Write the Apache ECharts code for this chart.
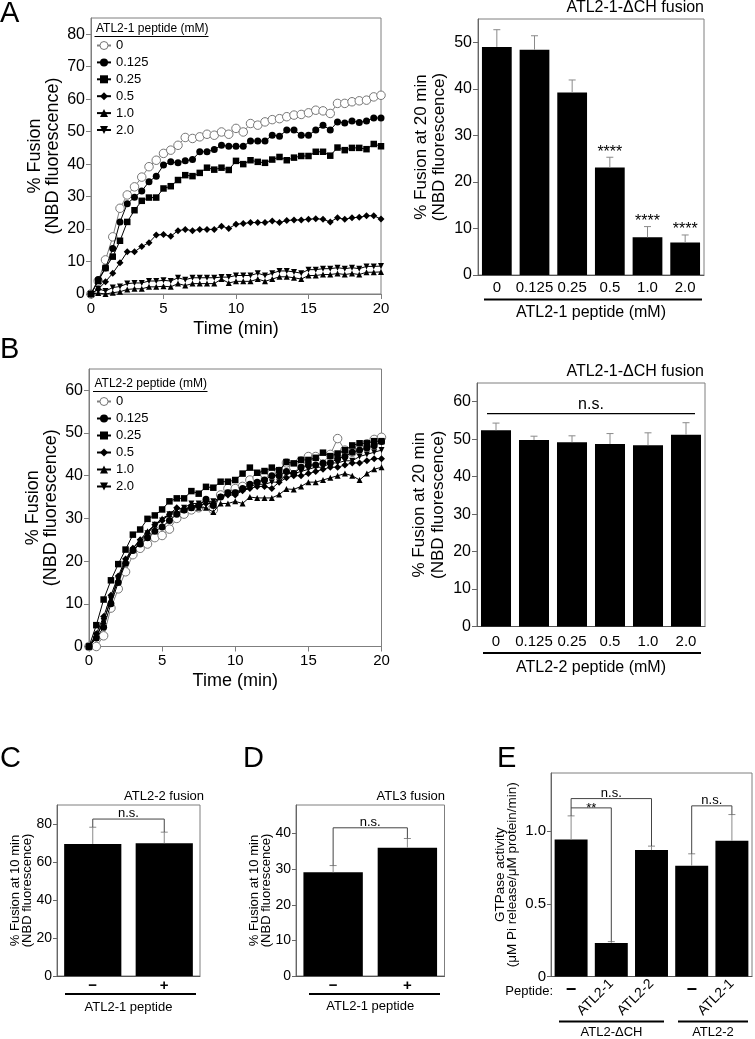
<!DOCTYPE html>
<html>
<head>
<meta charset="utf-8">
<script src="https://cdn.jsdelivr.net/npm/echarts@6/dist/echarts.min.js"></script>
<style>html,body{margin:0;padding:0;background:#fff}#c{width:755px;height:1039px}</style>
</head>
<body>
<div id="c"></div>
<script>
// ---------------- DATA ----------------
const TIME = [0,0.5,1,1.5,2,2.5,3,3.5,4,4.5,5,5.5,6,6.5,7,7.5,8,8.5,9,9.5,10,10.5,11,11.5,12,12.5,13,13.5,14,14.5,15,15.5,16,16.5,17,17.5,18,18.5,19,19.5,20];
const CONC = ['0','0.125','0.25','0.5','1.0','2.0'];

// Panel A, kinetics (ATL2-1 peptide)
const A_0   = [0,4,10.5,17.6,26.4,30.5,33,36,39.2,41.2,43.3,44.3,45.8,48.2,47.9,48.4,49.2,48.9,49.9,49.2,51,49.9,52.5,52,53,53.7,54,54.6,55.1,55.3,55.8,56.6,56.4,55.6,58.7,58.7,59.2,59.5,59.7,60.7,61.2];
const A_125 = [0,4.5,8,14,22.2,27.8,29.8,31.7,34.6,36.3,39.7,40.7,40.4,41,41.4,43.8,43.8,44.5,45.8,45.5,45.5,45.5,47.1,47.1,47.1,48.9,48.6,50.5,50.5,48.9,48.9,50.5,52,50.5,53,52.7,53.3,52.8,53.3,54.2,54.2];
const A_25  = [0,4,8,11.5,16.4,22.2,25.8,28.7,29.7,29.7,32.5,33.2,35.1,36.6,36.3,37.3,38.9,38.3,38.9,38.2,41,40,41.2,40.7,40.4,41.4,42.2,41.2,42,42.5,42.5,43.8,43.8,42.6,45.1,44.3,45,45,44.6,46.2,45.5];
const A_5   = [0,1.5,3.8,6.4,9.6,13,13,14.6,15.8,18.2,18.3,17.8,19.5,19.9,19.5,19.9,19.9,19.9,20.9,20.2,21.5,21.7,22,22,22,22.5,22,22.6,22.8,22.8,23,23.2,23,22.2,23.5,23,23.5,23.6,24.1,24.1,23.1];
const A_10  = [0,0.3,0,0.4,0.7,1.4,1.6,1.6,2.2,2.2,2.4,2.2,3.2,2.6,3.2,3.2,3.2,3.2,4.6,3.4,3.9,3.9,3.9,4.6,3.9,4.6,5.3,5.3,5.0,4.6,5.7,5.7,6.0,6.0,6.3,6.0,6.3,6.0,6.7,6.7,6.8];
const A_20  = [0,1.6,0.9,2.0,2.3,3.2,3.4,3.4,4.0,4.0,4.2,4.0,5.0,4.4,5.0,5.0,5.0,5.0,5.2,5.2,5.7,5.7,5.7,6.4,5.7,6.4,7.1,7.1,6.8,6.4,7.5,7.5,7.8,7.8,8.1,7.8,8.1,7.8,8.5,8.5,8.6];

// Panel B, kinetics (ATL2-2 peptide)
const B_0   = [0,0,2.5,9,13.5,17.5,21.5,23,24,25.5,26,27.5,30,31,32,32.5,33.5,32,35.5,37,37,37.5,39,39.5,40.5,40.5,41,43,42,43.5,44.5,44.5,44.5,45,48.7,46,45.5,46.5,47.5,48.5,49];
const B_125 = [0,2,4.5,10,15,19.5,22.5,24,25.5,27,28,29.5,31,32,32.5,33,34.5,33,35,36,36,37,38,38.5,39,40,40,41,40.5,42,42.5,42.5,43,43,44,44.5,45.5,46,46.5,47,48];
const B_25  = [0,5,11,15.5,19.3,22.7,26.2,27.4,29.9,30.7,32.1,34,34.7,34.7,36.4,35.8,37.4,37.2,38.6,38.6,39,40.5,41.9,40.7,41.1,41.9,41.3,43.2,42.9,43.7,43.7,44.2,45.4,44.6,45.2,46,47.1,47.6,47.6,48.1,48.1];
const B_5   = [0,3,7,12,16.5,20.5,23,25,26.5,28.5,29.5,31,32.5,32,33,33,33.5,33.5,35,35.5,35.5,36.5,37,37.5,37.5,37,38.5,39.5,40,40,40.5,41,41.5,42,42,42.5,43,43,43.5,44,44];
const B_10  = [0,2,6,11,16,20,23,25,27,28.5,30,31,31.5,32,32.5,32.5,32.5,31.5,33.5,33.5,34,33.5,35,34.8,34.8,34.8,35.6,36.9,36.8,37.5,38.5,38.5,39,39.5,40,40.5,40,39,40.5,41.5,42];
const B_20  = [0,2.5,6,11,15.5,20,22.5,24.5,26.5,28.5,29.5,31,32,32.5,33.5,33.5,34,34,35,36,36,36.5,37.5,38,38,38.5,38.5,40.5,40.5,41,41.5,42,42,43,43,43.5,43.5,44.5,45,45.5,46];

// Bar panels
const A_BAR_MEAN = [49.0, 48.4, 39.2, 23.1, 8.1, 7.0];
const A_BAR_ERR  = [3.7, 3.0, 2.7, 2.2, 2.3, 1.6];
const A_BAR_SIG  = ['', '', '', '****', '****', '****'];
const B_BAR_MEAN = [52.4, 49.8, 49.2, 48.7, 48.4, 51.2];
const B_BAR_ERR  = [1.9, 1.0, 1.7, 2.8, 3.3, 3.2];
const B_NS_LEVEL = 56.8;

const CD_CATS = ['−', '+'];
const C_MEAN = [69.5, 69.9];
const C_ERR  = [8.8, 5.8];
const D_MEAN = [29.1, 36.0];
const D_ERR  = [1.9, 2.6];
const E_CATS = ['−', 'ATL2-1', 'ATL2-2', '−', 'ATL2-1'];
const E_MEAN = [0.943, 0.231, 0.870, 0.762, 0.934];
const E_ERR  = [0.162, 0.009, 0.027, 0.082, 0.180];

// brackets: [from, to, level, leftEnd, rightEnd, label]
const C_BRACKETS = [[0, 1, 82.6, 78.3, 75.7, 'n.s.']];
const D_BRACKETS = [[0, 1, 41.6, 31.0, 38.6, 'n.s.']];
const E_BRACKETS = [[0, 2, 1.224, 1.105, 0.897, 'n.s.'], [0, 1, 1.16, 1.16, 0.24, '**'], [3, 4, 1.174, 0.844, 1.114, 'n.s.']];

// tick labels
const T_TICKS = [0, 5, 10, 15, 20];
const A_LINE_YTICKS = [0, 10, 20, 30, 40, 50, 60, 70, 80];
const B_LINE_YTICKS = [0, 10, 20, 30, 40, 50, 60];
const A_BAR_YTICKS = [0, 10, 20, 30, 40, 50];
const B_BAR_YTICKS = [0, 10, 20, 30, 40, 50, 60];
const C_YTICKS = [0, 20, 40, 60, 80];
const D_YTICKS = [0, 10, 20, 30, 40];
const E_YTICKS = [0, 0.5, 1.0];

// ---------------- CHART ----------------
const FONT = '"Liberation Sans", Arial, Helvetica, sans-serif';
const chart = echarts.init(document.getElementById('c'), null, {renderer: 'canvas', width: 755, height: 1039});

const FRAME = '#7f7f7f';
function grid(l, t, w, h) {
  return {left: l, top: t, width: w, height: h, show: true, borderColor: FRAME, borderWidth: 1, backgroundColor: 'transparent', outerBoundsMode: 'none', containLabel: false};
}
function valAxis(gi, min, max, ticks, o) {
  o = o || {};
  return {
    type: 'value', gridIndex: gi, min: min, max: max,
    splitLine: {show: false},
    axisLine: {show: true, lineStyle: {color: o.lineColor || FRAME, width: 1}},
    axisTick: {show: true, inside: false, length: o.tickLen || 5, lineStyle: {color: o.lineColor || FRAME}, customValues: ticks},
    axisLabel: {show: true, customValues: ticks, color: '#000', fontFamily: FONT, fontSize: o.fs || 15, margin: o.margin || 7,
      formatter: o.fmt || (v => String(v))},
    name: o.name || '', nameLocation: 'middle', nameGap: o.nameGap || 30,
    nameTextStyle: {color: '#000', fontFamily: FONT, fontSize: o.nfs || 17, lineHeight: o.nlh || 18},
    nameMoveOverlap: false
  };
}
function catAxis(gi, data, o) {
  o = o || {};
  return {
    type: 'category', gridIndex: gi, data: data, boundaryGap: true,
    axisLine: {show: o.noLine ? false : true, lineStyle: {color: '#555', width: 1}},
    axisTick: {show: false},
    splitLine: {show: false},
    axisLabel: {show: true, interval: 0, color: '#000', fontFamily: FONT, fontSize: o.fs || 15, fontWeight: o.fw || 'normal',
      margin: o.margin || 5, rotate: o.rotate || 0, formatter: o.fmt || (v => v)},
    name: o.name || '', nameLocation: 'middle', nameGap: o.nameGap || 30,
    nameTextStyle: {color: '#000', fontFamily: FONT, fontSize: o.nfs || 16},
    nameMoveOverlap: false,
    position: 'bottom'
  };
}

const MARKS = [
  {symbol: 'circle', size: 8.5, fill: '#fff', border: '#777', bw: 1, line: '#808080'},
  {symbol: 'circle', size: 7, fill: '#000', border: '#000', bw: 0, line: '#000'},
  {symbol: 'rect', size: 6.5, fill: '#000', border: '#000', bw: 0, line: '#000'},
  {symbol: 'diamond', size: 7, fill: '#000', border: '#000', bw: 0, line: '#000'},
  {symbol: 'triangle', size: 6, fill: '#000', border: '#000', bw: 0, line: '#000'},
  {symbol: 'triangle', size: 6, fill: '#000', border: '#000', bw: 0, line: '#000', rot: 180}
];
function lineSeries(prefix, ai, vals, k) {
  const m = MARKS[k];
  return {
    type: 'line', name: prefix + ':' + CONC[k], xAxisIndex: ai, yAxisIndex: ai,
    data: TIME.map((t, i) => [t, vals[i]]),
    symbol: m.symbol, symbolSize: m.size, symbolRotate: m.rot || 0,
    showSymbol: true, showAllSymbol: true, clip: false,
    lineStyle: {color: m.line, width: 1},
    itemStyle: {color: m.fill, borderColor: m.border, borderWidth: m.bw},
    emphasis: {disabled: true}, z: 2 + k
  };
}
function barSeries(ai, vals, bw) {
  return {type: 'bar', xAxisIndex: ai, yAxisIndex: ai, data: vals, barWidth: bw,
    itemStyle: {color: '#000'}, emphasis: {disabled: true}, z: 2};
}
function errSeries(ai, mean, err, sig, sigFs) {
  return {
    type: 'custom', coordinateSystem: 'cartesian2d', xAxisIndex: ai, yAxisIndex: ai, z: 3,
    data: mean.map((v, i) => [i, v, v + err[i]]),
    renderItem: function (params, api) {
      const i = api.value(0);
      const p1 = api.coord([i, api.value(1)]);
      const p2 = api.coord([i, api.value(2)]);
      const cap = 3.5;
      const ch = [
        {type: 'line', shape: {x1: p1[0], y1: p1[1], x2: p2[0], y2: p2[1]}, style: {stroke: '#8a8a8a', lineWidth: 1}},
        {type: 'line', shape: {x1: p2[0] - cap, y1: p2[1], x2: p2[0] + cap, y2: p2[1]}, style: {stroke: '#8a8a8a', lineWidth: 1}}
      ];
      const s = sig ? sig[params.dataIndex] : '';
      if (s) {
        ch.push({type: 'text', x: p2[0], y: p2[1] + 3,
          style: {text: s, fill: '#000', fontFamily: FONT, fontSize: sigFs || 16, align: 'center', verticalAlign: 'bottom'}});
      }
      return {type: 'group', children: ch};
    }
  };
}
function bracketSeries(ai, brs, fs) {
  return {
    type: 'custom', coordinateSystem: 'cartesian2d', xAxisIndex: ai, yAxisIndex: ai, z: 4,
    data: brs.map(b => [b[0], b[1], b[2], b[3], b[4]]),
    renderItem: function (params, api) {
      const a = api.value(0), b = api.value(1), lv = api.value(2);
      const pL = api.coord([a, api.value(3)]);
      const pR = api.coord([b, api.value(4)]);
      const qL = api.coord([a, lv]);
      const qR = api.coord([b, lv]);
      const lab = brs[params.dataIndex][5];
      const isStar = lab.indexOf('*') >= 0;
      return {type: 'group', children: [
        {type: 'polyline', shape: {points: [pL, qL, qR, pR]}, style: {stroke: '#444', lineWidth: 1, fill: null}},
        {type: 'text', x: (qL[0] + qR[0]) / 2, y: qL[1] + (isStar ? 7 : 1),
          style: {text: lab, fill: '#000', fontFamily: FONT, fontSize: fs, align: 'center', verticalAlign: 'bottom'}}
      ]};
    }
  };
}
function nsLineSeries(ai, n, level, fs) {
  return {
    type: 'custom', coordinateSystem: 'cartesian2d', xAxisIndex: ai, yAxisIndex: ai, z: 4,
    data: [[0, n - 1, level]],
    renderItem: function (params, api) {
      const pL = api.coord([api.value(0), api.value(2)]);
      const pR = api.coord([api.value(1), api.value(2)]);
      return {type: 'group', children: [
        {type: 'line', shape: {x1: pL[0] - 9, y1: pL[1], x2: pR[0] + 9, y2: pR[1]}, style: {stroke: '#000', lineWidth: 1.2}},
        {type: 'text', x: (pL[0] + pR[0]) / 2, y: pL[1] - 1,
          style: {text: 'n.s.', fill: '#000', fontFamily: FONT, fontSize: fs, align: 'center', verticalAlign: 'bottom'}}
      ]};
    }
  };
}
function legendCfg(prefix, top) {
  return {
    orient: 'vertical', left: 96, top: top, padding: 0, itemGap: prefix === 'A' ? 2.9 : 3,
    itemWidth: 14, itemHeight: 10, selectedMode: false,
    data: CONC.map((c, k) => (k === 0
      ? {name: prefix + ':' + c, itemStyle: {color: '#fff', borderColor: '#777', borderWidth: 1}}
      : {name: prefix + ':' + c})),
    formatter: n => n.split(':')[1],
    textStyle: {color: '#000', fontFamily: FONT, fontSize: 13, lineHeight: 14}
  };
}
function txt(text, x, y, fs, align, extra) {
  return Object.assign({type: 'text', x: x, y: y, silent: true,
    style: Object.assign({text: text, fill: '#000', fontFamily: FONT, fontSize: fs, align: align || 'left', verticalAlign: 'middle'}, extra || {})});
}
function hline(x1, x2, y, w) {
  return {type: 'line', silent: true, shape: {x1: x1, y1: y, x2: x2, y2: y}, style: {stroke: '#000', lineWidth: w || 2}};
}

const yNameL = '% Fusion\n(NBD fluorescence)';
const yNameBar20 = '% Fusion at 20 min\n(NBD fluorescence)';
const yNameBar10 = '% Fusion at 10 min\n(NBD fluorescence)';

const option = {
  animation: false,
  backgroundColor: '#fff',
  textStyle: {fontFamily: FONT},
  grid: [
    grid(91, 18, 290, 276),      // 0 A kinetics
    grid(478, 19, 226, 256),     // 1 A bars
    grid(89, 369, 292.5, 277.5), // 2 B kinetics
    grid(477, 383, 228, 243.5),  // 3 B bars
    grid(57, 805, 143, 171),     // 4 C
    grid(296, 805, 148.5, 171),  // 5 D
    grid(551, 773, 201, 203.5)   // 6 E
  ],
  xAxis: [
    Object.assign(valAxis(0, 0, 20, T_TICKS, {name: 'Time (min)', nameGap: 26, nfs: 18}), {position: 'bottom'}),
    catAxis(1, CONC, {name: 'ATL2-1 peptide (mM)', nameGap: 30, margin: 5}),
    Object.assign(valAxis(2, 0, 20, T_TICKS, {name: 'Time (min)', nameGap: 26, nfs: 18}), {position: 'bottom'}),
    catAxis(3, CONC, {name: 'ATL2-2 peptide (mM)', nameGap: 33, margin: 8}),
    catAxis(4, CD_CATS, {name: 'ATL2-1 peptide', nameGap: 25, nfs: 13, fs: 15, fw: 'bold', margin: 2}),
    catAxis(5, CD_CATS, {name: 'ATL2-1 peptide', nameGap: 24, nfs: 13, fs: 15, fw: 'bold', margin: 2}),
    catAxis(6, E_CATS, {fs: 14, rotate: 45, margin: 5, fmt: v => (v === '−' ? '' : v)}),
    catAxis(6, E_CATS, {fs: 18, fw: 'bold', margin: 5, noLine: true, fmt: v => (v === '−' ? v : '')})
  ],
  yAxis: [
    valAxis(0, 0, 85, A_LINE_YTICKS, {name: yNameL, nameGap: 29, nfs: 18, nlh: 18, fs: 16, margin: 6}),
    valAxis(1, 0, 55, A_BAR_YTICKS, {name: yNameBar20, nameGap: 30, nfs: 17, nlh: 18, fs: 16, margin: 6, lineColor: '#666'}),
    valAxis(2, 0, 65, B_LINE_YTICKS, {name: yNameL, nameGap: 29, nfs: 18, nlh: 18, fs: 16, margin: 6}),
    valAxis(3, 0, 65, B_BAR_YTICKS, {name: yNameBar20, nameGap: 29, nfs: 17, nlh: 19, fs: 16, margin: 6, lineColor: '#666'}),
    valAxis(4, 0, 90, C_YTICKS, {name: yNameBar10, nameGap: 24, nfs: 13, nlh: 12, fs: 14, margin: 5, lineColor: '#666', tickLen: 4}),
    valAxis(5, 0, 48, D_YTICKS, {name: yNameBar10, nameGap: 24, nfs: 13, nlh: 12, fs: 14, margin: 5, lineColor: '#666', tickLen: 4}),
    valAxis(6, 0, 1.4, E_YTICKS, {name: 'GTPase activity\n(μM Pi release/μM protein/min)', nameGap: 33, nfs: 13.5, nlh: 12, fs: 15, margin: 5, lineColor: '#666', tickLen: 4,
      fmt: v => (v === 0 ? '0' : v.toFixed(1))})
  ],
  legend: [legendCfg('A', 38.5), legendCfg('B', 394.5)],
  series: [
    lineSeries('A', 0, A_0, 0), lineSeries('A', 0, A_125, 1), lineSeries('A', 0, A_25, 2),
    lineSeries('A', 0, A_5, 3), lineSeries('A', 0, A_10, 4), lineSeries('A', 0, A_20, 5),
    barSeries(1, A_BAR_MEAN, '79%'), errSeries(1, A_BAR_MEAN, A_BAR_ERR, A_BAR_SIG, 16),
    lineSeries('B', 2, B_0, 0), lineSeries('B', 2, B_125, 1), lineSeries('B', 2, B_25, 2),
    lineSeries('B', 2, B_5, 3), lineSeries('B', 2, B_10, 4), lineSeries('B', 2, B_20, 5),
    barSeries(3, B_BAR_MEAN, '79%'), errSeries(3, B_BAR_MEAN, B_BAR_ERR, null), nsLineSeries(3, CONC.length, B_NS_LEVEL, 16),
    barSeries(4, C_MEAN, '80%'), errSeries(4, C_MEAN, C_ERR, null), bracketSeries(4, C_BRACKETS, 13),
    barSeries(5, D_MEAN, '80%'), errSeries(5, D_MEAN, D_ERR, null), bracketSeries(5, D_BRACKETS, 13),
    barSeries(6, E_MEAN, '82%'), errSeries(6, E_MEAN, E_ERR, null), bracketSeries(6, E_BRACKETS, 13)
  ],
  graphic: {elements: [
    // panel letters
    txt('A', 0, 14, 29), txt('B', 0, 350, 29), txt('C', 0, 759, 29), txt('D', 243, 759, 29), txt('E', 497, 759, 29),
    // legend titles
    txt('ATL2-1 peptide (mM)', 96, 29, 12), hline(94.5, 208.5, 36.5, 1.2),
    txt('ATL2-2 peptide (mM)', 94.5, 383.5, 12), hline(93, 207.5, 391.5, 1.2),
    // panel titles
    txt('ATL2-1-ΔCH fusion', 704, 7.5, 16, 'right'),
    txt('ATL2-1-ΔCH fusion', 704, 372, 16, 'right'),
    txt('ATL2-2 fusion', 204, 796, 13, 'right'),
    txt('ATL3 fusion', 445, 796, 13, 'right'),
    // group underlines
    hline(484, 702, 299.5, 2), hline(483, 701, 653, 2),
    hline(65, 196, 994, 2), hline(309, 440, 994, 2),
    hline(559, 664, 1021.5, 2), hline(678, 748, 1021.5, 2),
    // E annotations
    txt('Peptide:', 553, 991.5, 13, 'right'),
    txt('ATL2-ΔCH', 611.5, 1032, 13, 'center'),
    txt('ATL2-2', 713, 1032, 13, 'center')
  ]}
};
chart.setOption(option);
</script>
</body>
</html>
